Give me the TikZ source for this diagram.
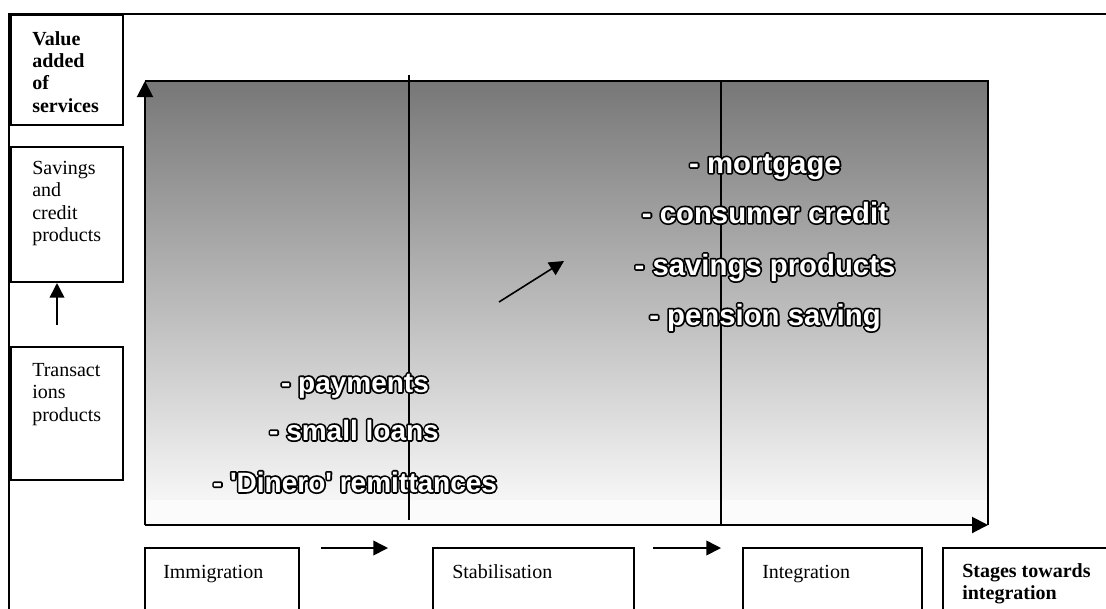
\documentclass[tikz,border=0pt]{standalone}
\usepackage{fontspec}
\setmainfont{Liberation Serif}
\newfontfamily\outlinefont{Liberation Sans}
\usetikzlibrary{arrows.meta}
\definecolor{shadetop}{RGB}{119,119,119}
\definecolor{shadebot}{RGB}{246,246,246}
% white letters on a black stroked copy
\newcommand{\outlined}[1]{\rlap{\special{pdf:literal direct 0 0 0 RG 2.6 w 1 j 2 Tr}#1\special{pdf:literal direct 0 Tr}}\textcolor{white}{#1}}
\tikzset{
    boxline/.style={line width=1.1pt},
    tip/.style={-{Triangle[length=12pt,width=12pt]}, line width=1.2pt},
    smalltip/.style={-{Triangle[length=11pt,width=11pt]}, line width=1.2pt},
    boxtext/.style={anchor=north west, align=left, inner sep=0pt},
    steptext/.style={anchor=base west, inner sep=0pt},
    product/.style={anchor=base, inner sep=0pt, font=\outlinefont\bfseries\fontsize{22}{24}\selectfont},
}

\begin{document}
\begin{tikzpicture}[x=0.75pt, y=-0.75pt, font=\fontsize{15}{16.75}\selectfont]
    \useasboundingbox (0,0) rectangle (1106,608);
    \draw[line width=1.5pt] (9,612) -- (9,14) -- (1106,14);

    % shaded field
    \shade[top color=shadetop, bottom color=shadebot] (145,81) rectangle (988,500);
    \fill[shadebot!40!white] (145,500) rectangle (988,525);
    \draw[line width=1.5pt] (145,81) -- (988,81) -- (988,525);
    \draw[line width=1.1pt] (409,75) -- (409,520);
    \draw[line width=1.1pt] (721,81) -- (721,525);

    % axes
    \coordinate (origin) at (145,525);
    \coordinate (ytop) at (145,81);
    \coordinate (xend) at (988,525);
    \draw[tip, line width=1.5pt] (origin) -- (ytop);
    \draw[tip, line width=1.5pt] (origin) -- (xend);

    % left column
    \draw[boxline] (11,15) rectangle (123,125);
    \node[boxtext, font=\bfseries\fontsize{15}{16.75}\selectfont] (value) at (32,31) {Value\\added\\of\\services};
    \draw[boxline] (11,147) rectangle (123,282);
    \node[boxtext] (savings) at (32,161) {Savings\\and\\credit\\products};
    \draw[boxline] (11,347) rectangle (123,480);
    \node[boxtext] (trans) at (32,363) {Transact\\ions\\products};
    \coordinate (upfrom) at (57,325);
    \coordinate (upto) at (57,283);
    \draw[smalltip] (upfrom) -- (upto);

    % stages
    \draw[boxline] (145,548) rectangle (299,612);
    \node[steptext] (immig) at (163,578) {Immigration};
    \draw[boxline] (433,548) rectangle (634,612);
    \node[steptext] (stab) at (452,578) {Stabilisation};
    \draw[boxline] (743,548) rectangle (922,612);
    \node[steptext] (integ) at (762,578) {Integration};
    \draw[boxline] (943,548) rectangle (1110,612);
    \node[boxtext, font=\bfseries\fontsize{15}{16.75}\selectfont] (stages) at (962,563) {Stages towards\\integration};
    \coordinate (a1) at (321,548);
    \coordinate (b1) at (388,548);
    \coordinate (a2) at (653,548);
    \coordinate (b2) at (721,548);
    \draw[smalltip] (a1) -- (b1);
    \draw[smalltip] (a2) -- (b2);

    % products
    \node[product] (mort) at (765,173) {\outlined{- mortgage}};
    \node[product] (cons) at (765,223) {\outlined{- consumer credit}};
    \node[product] (savp) at (765,275) {\outlined{- savings products}};
    \node[product] (pens) at (765,325) {\outlined{- pension saving}};
    \node[product, font=\outlinefont\bfseries\fontsize{21}{24}\selectfont] (pay) at (355,392) {\outlined{- payments}};
    \node[product, font=\outlinefont\bfseries\fontsize{21}{24}\selectfont] (loans) at (354,440) {\outlined{- small loans}};
    \node[product, font=\outlinefont\bfseries\fontsize{21}{24}\selectfont] (dinero) at (355,492) {\outlined{- 'Dinero' remittances}};
    \coordinate (trendfrom) at (499,302);
    \coordinate (trendto) at (564,261);
    \draw[smalltip] (trendfrom) -- (trendto);
\end{tikzpicture}
\end{document}
